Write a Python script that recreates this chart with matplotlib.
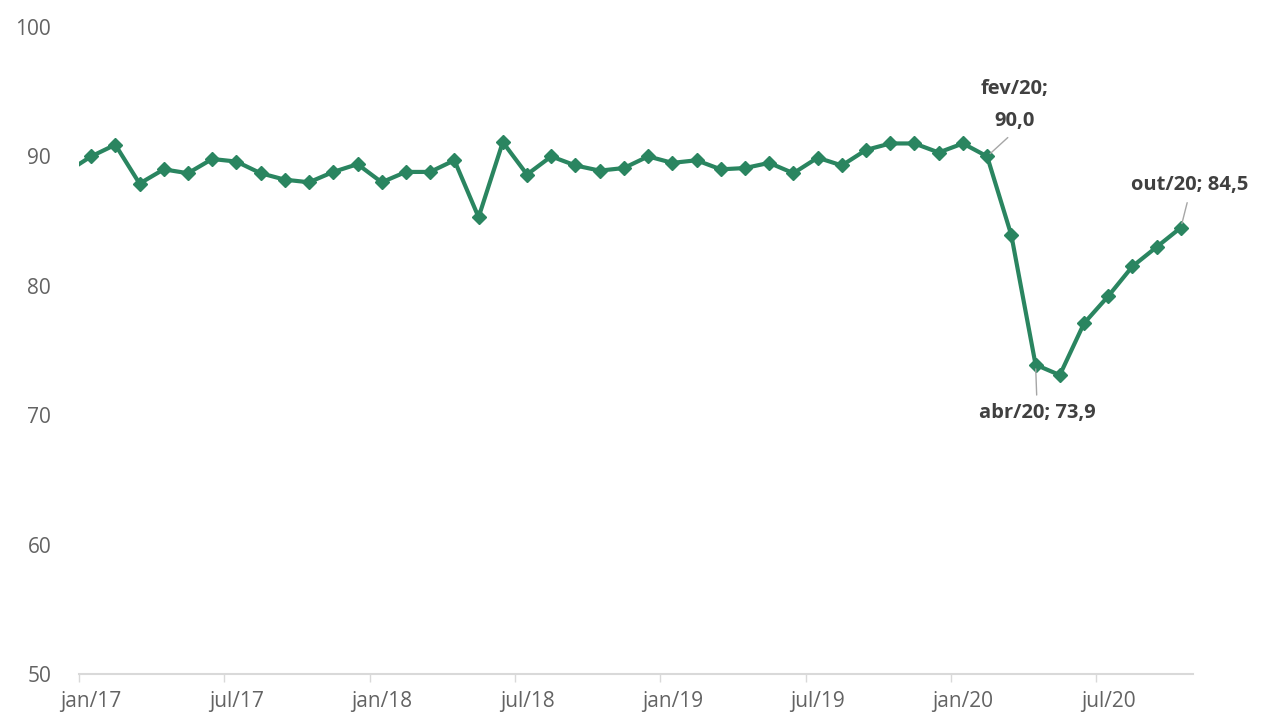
import matplotlib
matplotlib.use("Agg")
import matplotlib.pyplot as plt
import numpy as np

# Monthly index, dez/16 to out/20
months = ["dez/16",
          "jan/17", "fev/17", "mar/17", "abr/17", "mai/17", "jun/17",
          "jul/17", "ago/17", "set/17", "out/17", "nov/17", "dez/17",
          "jan/18", "fev/18", "mar/18", "abr/18", "mai/18", "jun/18",
          "jul/18", "ago/18", "set/18", "out/18", "nov/18", "dez/18",
          "jan/19", "fev/19", "mar/19", "abr/19", "mai/19", "jun/19",
          "jul/19", "ago/19", "set/19", "out/19", "nov/19", "dez/19",
          "jan/20", "fev/20", "mar/20", "abr/20", "mai/20", "jun/20",
          "jul/20", "ago/20", "set/20", "out/20"]
values = [88.8,
          90.0, 90.9, 87.9, 89.0, 88.7, 89.8,
          89.6, 88.7, 88.2, 88.0, 88.8, 89.4,
          88.0, 88.8, 88.8, 89.7, 85.3, 91.1,
          88.6, 90.0, 89.3, 88.9, 89.1, 90.0,
          89.5, 89.7, 89.0, 89.1, 89.5, 88.7,
          89.9, 89.3, 90.5, 91.0, 91.0, 90.3,
          91.0, 90.0, 83.9, 73.9, 73.1, 77.1,
          79.2, 81.5, 83.0, 84.5]

tick_labels = ["jan/17", "jul/17", "jan/18", "jul/18",
               "jan/19", "jul/19", "jan/20", "jul/20"]
highlights = ["fev/20", "abr/20", "out/20"]

green = "#2a8560"
grey_text = "#636363"
label_text = "#404040"

# each month sits in the middle of its slot, jan/17 slot starts at 0
x = np.arange(len(months)) - 0.5

fig = plt.figure(figsize=(12.67, 7.22), dpi=100)
ax = fig.add_axes([79 / 1267, 48 / 722, (1193 - 79) / 1267, (674 - 27) / 722])

ax.plot(x, values, color=green, linewidth=3, marker="D", markersize=7,
        markeredgecolor=green, markerfacecolor=green, zorder=3)

ax.set_xlim(0, len(months) - 1)
ax.set_ylim(50, 100)
ax.set_yticks(range(50, 101, 10))

# ticks on slot borders, labels centred on the month
pos = [x[months.index(m)] for m in tick_labels]
ax.set_xticks([p - 0.5 for p in pos])
ax.set_xticklabels([])
ax.set_xticks(pos, minor=True)
ax.set_xticklabels(tick_labels, minor=True)
ax.tick_params(axis="x", which="major", length=6, width=1, color="#d9d9d9")
ax.tick_params(axis="x", which="minor", length=0, pad=12,
               labelsize=15, labelcolor=grey_text)
ax.tick_params(axis="y", length=0, pad=20, labelsize=15, labelcolor=grey_text)
for lbl in ax.get_xticklabels(minor=True) + ax.get_yticklabels():
    lbl.set_family("Open Sans")

for side in ["top", "right", "left"]:
    ax.spines[side].set_visible(False)
ax.spines["bottom"].set_color("#d9d9d9")
ax.spines["bottom"].set_linewidth(1.5)

# data labels for the key months
offsets = {"fev/20": (20, 37), "abr/20": (1, -35), "out/20": (6, 31)}
for m in highlights:
    i = months.index(m)
    v = values[i]
    val = f"{v:.1f}".replace(".", ",")
    txt = f"{m};\n{val}" if m == "fev/20" else f"{m}; {val}"
    dx, dy = offsets[m]
    ax.annotate(txt, xy=(x[i], v), xytext=(dx, dy), textcoords="offset points",
                ha="center", va="center", fontsize=14.5, fontweight="bold",
                family="Open Sans", color=label_text, linespacing=1.8,
                arrowprops=dict(arrowstyle="-", color="#a6a6a6", lw=1,
                                shrinkA=4, shrinkB=3,
                                relpos=(0.5, 1) if dy < 0 else (0.5, 0)),
                annotation_clip=False)

fig.savefig("out.png", dpi=100)
